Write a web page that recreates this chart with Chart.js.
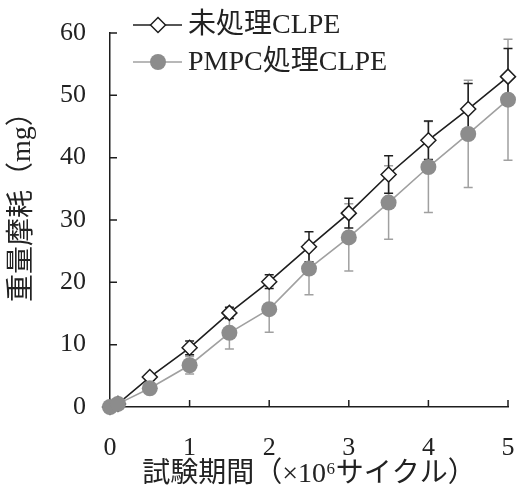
<!DOCTYPE html>
<html>
<head>
<meta charset="utf-8">
<script src="https://cdn.jsdelivr.net/npm/chart.js@4/dist/chart.umd.min.js"></script>
<style>
  html, body { margin: 0; padding: 0; background: #fff; }
  #wrap { width: 517px; height: 492px; }
</style>
</head>
<body>
<div id="wrap"><canvas id="c" width="517" height="492"></canvas></div>
<script>
// Test period (x10^6 cycles)
const cycles = [0, 0.1, 0.5, 1, 1.5, 2, 2.5, 3, 3.5, 4, 4.5, 5];
// Wear mass (mg), untreated CLPE
const untreated = [0, 0.5, 4.8, 9.5, 15.1, 20.1, 25.7, 31.1, 37.3, 42.8, 47.8, 53.0];
const untreatedSD = [0, 0, 0.4, 1.1, 0.9, 1.1, 2.4, 2.4, 3.0, 3.1, 4.1, 4.5];
// Wear mass (mg), PMPC-treated CLPE
const pmpc = [0, 0.5, 3.0, 6.7, 11.9, 15.7, 22.2, 27.2, 32.8, 38.5, 43.8, 49.3];
const pmpcSD = [0, 0, 0.5, 1.4, 2.6, 3.7, 4.2, 5.4, 5.9, 7.3, 8.6, 9.7];

const seriesNames = ['未処理CLPE', 'PMPC処理CLPE'];
const xTitle = '試験期間（×10⁶サイクル）';
const yTitle = '重量摩耗（mg）';

const SERIF = '"Liberation Serif", "Noto Sans CJK JP", serif';
const BLACK = '#1e1e1e';
const GREY_LINE = '#a0a0a0';
const GREY_FILL = '#8c8c8c';

const toXY = (ys) => cycles.map((x, i) => ({ x: x, y: ys[i] }));

// Standard deviation bars, drawn under the markers
const errorBars = {
  id: 'errorBars',
  beforeDatasetsDraw(chart) {
    const { ctx, scales: { x, y } } = chart;
    const sets = [
      { vals: pmpc, sd: pmpcSD, color: GREY_LINE },
      { vals: untreated, sd: untreatedSD, color: BLACK }
    ];
    ctx.save();
    ctx.lineWidth = 1.5;
    sets.forEach(s => {
      ctx.strokeStyle = s.color;
      cycles.forEach((c, i) => {
        if (!s.sd[i]) return;
        const px = x.getPixelForValue(c);
        const top = y.getPixelForValue(s.vals[i] + s.sd[i]);
        const bot = y.getPixelForValue(s.vals[i] - s.sd[i]);
        ctx.beginPath();
        ctx.moveTo(px, top); ctx.lineTo(px, bot);
        ctx.moveTo(px - 4.5, top); ctx.lineTo(px + 4.5, top);
        ctx.moveTo(px - 4.5, bot); ctx.lineTo(px + 4.5, bot);
        ctx.stroke();
      });
    });
    ctx.restore();
  }
};

// Tick marks pointing into the plot area, plus the vertical axis title
const innerTicks = {
  id: 'innerTicks',
  afterDraw(chart) {
    const { ctx, chartArea: a, scales: { x, y } } = chart;
    ctx.save();
    ctx.strokeStyle = BLACK;
    ctx.lineWidth = 1.5;
    ctx.beginPath();
    x.ticks.forEach(t => {
      if (t.value === 0) return;
      const px = x.getPixelForValue(t.value);
      ctx.moveTo(px, a.bottom); ctx.lineTo(px, a.bottom - 7);
    });
    y.ticks.forEach(t => {
      if (t.value === 0) return;
      const py = y.getPixelForValue(t.value);
      ctx.moveTo(a.left, py); ctx.lineTo(a.left + 7, py);
    });
    ctx.stroke();

    ctx.translate(23, 302);
    ctx.rotate(-Math.PI / 2);
    ctx.fillStyle = '#222';
    ctx.font = '28px ' + SERIF;
    ctx.textAlign = 'left';
    ctx.textBaseline = 'middle';
    ctx.fillText(yTitle, 0, 0);
    ctx.restore();
  }
};

// Legend: line with marker, then series name
const lineLegend = {
  id: 'lineLegend',
  afterDraw(chart) {
    const { ctx } = chart;
    const rows = [25, 62];
    ctx.save();
    chart.data.datasets.forEach((ds, i) => {
      const yy = rows[i];
      ctx.strokeStyle = ds.borderColor;
      ctx.lineWidth = 1.5;
      ctx.beginPath();
      ctx.moveTo(133, yy); ctx.lineTo(182, yy);
      ctx.stroke();
      ctx.fillStyle = ds.pointBackgroundColor;
      ctx.strokeStyle = ds.pointBorderColor;
      ctx.lineWidth = ds.pointBorderWidth;
      ctx.beginPath();
      if (ds.pointStyle === 'rectRot') {
        const r = ds.pointRadius;
        ctx.moveTo(158 - r, yy); ctx.lineTo(158, yy - r);
        ctx.lineTo(158 + r, yy); ctx.lineTo(158, yy + r);
        ctx.closePath();
      } else {
        ctx.arc(158, yy, ds.pointRadius, 0, Math.PI * 2);
      }
      ctx.fill();
      if (ds.pointBorderWidth) ctx.stroke();
      ctx.fillStyle = '#222';
      ctx.font = '28px ' + SERIF;
      ctx.textBaseline = 'middle';
      ctx.textAlign = 'left';
      ctx.fillText(ds.label, 188, yy + 1);
    });
    ctx.restore();
  }
};

new Chart(document.getElementById('c'), {
  type: 'line',
  data: {
    datasets: [
      {
        label: seriesNames[0],
        data: toXY(untreated),
        borderColor: BLACK,
        borderWidth: 1.6,
        pointStyle: 'rectRot',
        pointRadius: 7.5,
        pointBorderWidth: 1.5,
        pointBackgroundColor: '#ffffff',
        pointBorderColor: BLACK,
        order: 1,
        clip: false
      },
      {
        label: seriesNames[1],
        data: toXY(pmpc),
        borderColor: GREY_LINE,
        borderWidth: 1.6,
        pointStyle: 'circle',
        pointRadius: 8,
        pointBorderWidth: 0,
        pointBackgroundColor: GREY_FILL,
        pointBorderColor: GREY_FILL,
        order: 0,
        clip: false
      }
    ]
  },
  options: {
    responsive: false,
    animation: false,
    events: [],
    layout: { padding: { left: 0, right: 8, top: 33, bottom: 0 } },
    plugins: {
      legend: { display: false },
      tooltip: { enabled: false }
    },
    scales: {
      x: {
        type: 'linear',
        min: 0, max: 5,
        ticks: { stepSize: 1, padding: 26, color: '#222', font: { family: SERIF, size: 26 } },
        grid: { display: true, drawOnChartArea: false, drawTicks: false },
        border: { display: true, color: BLACK, width: 1.5 },
        title: { display: true, text: xTitle, color: '#222', padding: { top: 0, bottom: 1 }, font: { family: SERIF, size: 28 } },
        afterFit(s) { s.height = 85; s.paddingLeft = 0; s.paddingRight = 0; }
      },
      y: {
        min: 0, max: 60,
        ticks: { stepSize: 10, padding: 24, color: '#222', font: { family: SERIF, size: 26 } },
        grid: { display: true, drawOnChartArea: false, drawTicks: false },
        border: { display: true, color: BLACK, width: 1.5 },
        title: { display: false },
        afterFit(s) { s.width = 110; s.paddingTop = 0; s.paddingBottom = 0; }
      }
    }
  },
  plugins: [errorBars, innerTicks, lineLegend]
});
</script>
</body>
</html>
